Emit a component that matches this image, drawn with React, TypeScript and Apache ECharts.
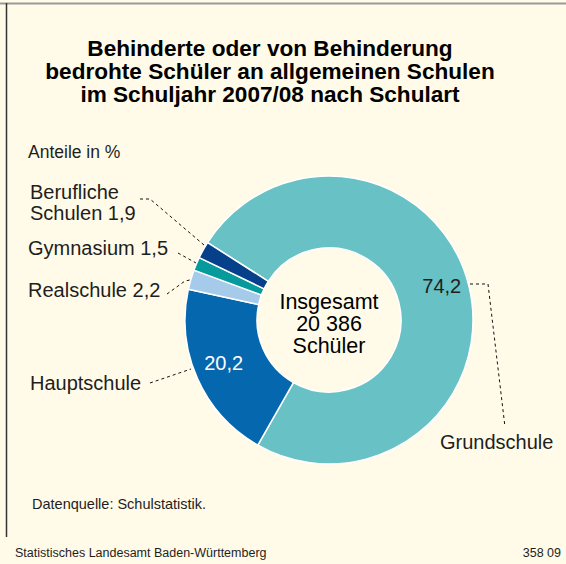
import React, { useEffect, useRef } from "react";
import * as echarts from "echarts";

const categories = ["Grundschule", "Hauptschule", "Realschule", "Gymnasium", "Berufliche Schulen"];
const shares = [74.2, 20.2, 2.2, 1.5, 1.9];
const colors = ["#68c1c4", "#0567ae", "#a6cbea", "#079a9c", "#063f8a"];
const totalStudents = "20 386";
const titleLines = [
  "Behinderte oder von Behinderung",
  "bedrohte Schüler an allgemeinen Schulen",
  "im Schuljahr 2007/08 nach Schulart",
];

const FONT = '"Liberation Sans", Arial, Helvetica, sans-serif';
const BG = "#fffbe8";
const TXT = "#1e1e1e";
const LABEL_SIZE = 20;

const fmt = (v: number) => v.toFixed(1).replace(".", ",");

export default function App() {
  const ref = useRef<HTMLDivElement>(null);

  useEffect(() => {
    if (!ref.current) return;
    const chart = echarts.init(ref.current, undefined, { renderer: "svg" });

    const data = categories.map((name, i) => {
      const item: any = {
        name,
        value: shares[i],
        itemStyle: { color: colors[i] },
        label: { show: false },
      };
      if (i === 0) {
        item.label = {
          show: true,
          position: "inside",
          formatter: () => fmt(shares[i]),
          color: TXT,
          fontSize: LABEL_SIZE,
          fontFamily: FONT,
          offset: [5, -7],
        };
      } else if (i === 1) {
        item.label = {
          show: true,
          position: "inside",
          formatter: () => fmt(shares[i]),
          color: "#ffffff",
          fontSize: LABEL_SIZE,
          fontFamily: FONT,
          offset: [-4, -2],
        };
      }
      return item;
    });

    const dashed = { stroke: "#111", lineWidth: 1, lineDash: [3, 3], fill: null };
    const txt = (text: string, x: number, y: number, size = LABEL_SIZE, align = "left", extra: any = {}) => ({
      type: "text",
      x,
      y,
      style: {
        text,
        fontSize: size,
        fontFamily: FONT,
        fill: TXT,
        align,
        verticalAlign: "middle",
        ...extra,
      },
    });

    const berufParts = categories[4].split(" ");
    const titleEls = titleLines.map((line, i) =>
      txt(line, 270, 48.5 + i * 23, 22.6, "center", { fontWeight: "bold", fill: "#000", lineHeight: 21 })
    );
    const centerLines = ["Insgesamt", totalStudents, "Schüler"];
    const centerEls = centerLines.map((line, i) =>
      txt(line, 329, 302 + i * 22, 21.5, "center", { fill: "#000" })
    );

    chart.setOption({
      animation: false,
      backgroundColor: BG,
      series: [
        {
          type: "pie",
          radius: [72, 144],
          center: [329, 320],
          startAngle: 147.5,
          clockwise: true,
          avoidLabelOverlap: false,
          silent: true,
          itemStyle: { borderColor: "#ffffff", borderWidth: 1.5 },
          labelLine: { show: false },
          data,
        },
      ],
      graphic: [
        // frame
        { type: "line", shape: { x1: 0, y1: 3.5, x2: 566, y2: 3.5 }, style: { stroke: "#9a9a9a", lineWidth: 2 } },
        { type: "line", shape: { x1: 6.5, y1: 3, x2: 6.5, y2: 537 }, style: { stroke: "#333", lineWidth: 1.5 } },
        ...titleEls,
        txt("Anteile in %", 28, 152, 17.5),
        ...centerEls,
        // outer labels
        txt(berufParts[0], 30, 192),
        txt(`${berufParts[1]} ${fmt(shares[4])}`, 30, 212.5),
        txt(`${categories[3]} ${fmt(shares[3])}`, 28, 248),
        txt(`${categories[2]} ${fmt(shares[2])}`, 28, 289.5),
        txt(categories[1], 30, 382.5),
        txt(categories[0], 440, 441.5),
        // leader lines
        { type: "polyline", shape: { points: [[140, 199], [150, 199], [204, 245]] }, style: dashed },
        { type: "polyline", shape: { points: [[178, 253], [196, 263]] }, style: dashed },
        { type: "polyline", shape: { points: [[167, 294], [185, 281], [190, 280]] }, style: dashed },
        { type: "polyline", shape: { points: [[150, 383], [191, 369]] }, style: dashed },
        { type: "polyline", shape: { points: [[470, 284], [488, 284], [505, 427]] }, style: dashed },
        // source & footer
        txt("Datenquelle: Schulstatistik.", 32, 504, 14.5),
        txt("Statistisches Landesamt Baden-Württemberg", 15, 553, 12.5),
        txt("358 09", 561, 553, 12.5, "right"),
      ],
    });

    return () => chart.dispose();
  }, []);

  return (
    <div
      ref={ref}
      style={{ position: "absolute", left: 0, top: 0, width: 566, height: 564, background: BG }}
    />
  );
}
